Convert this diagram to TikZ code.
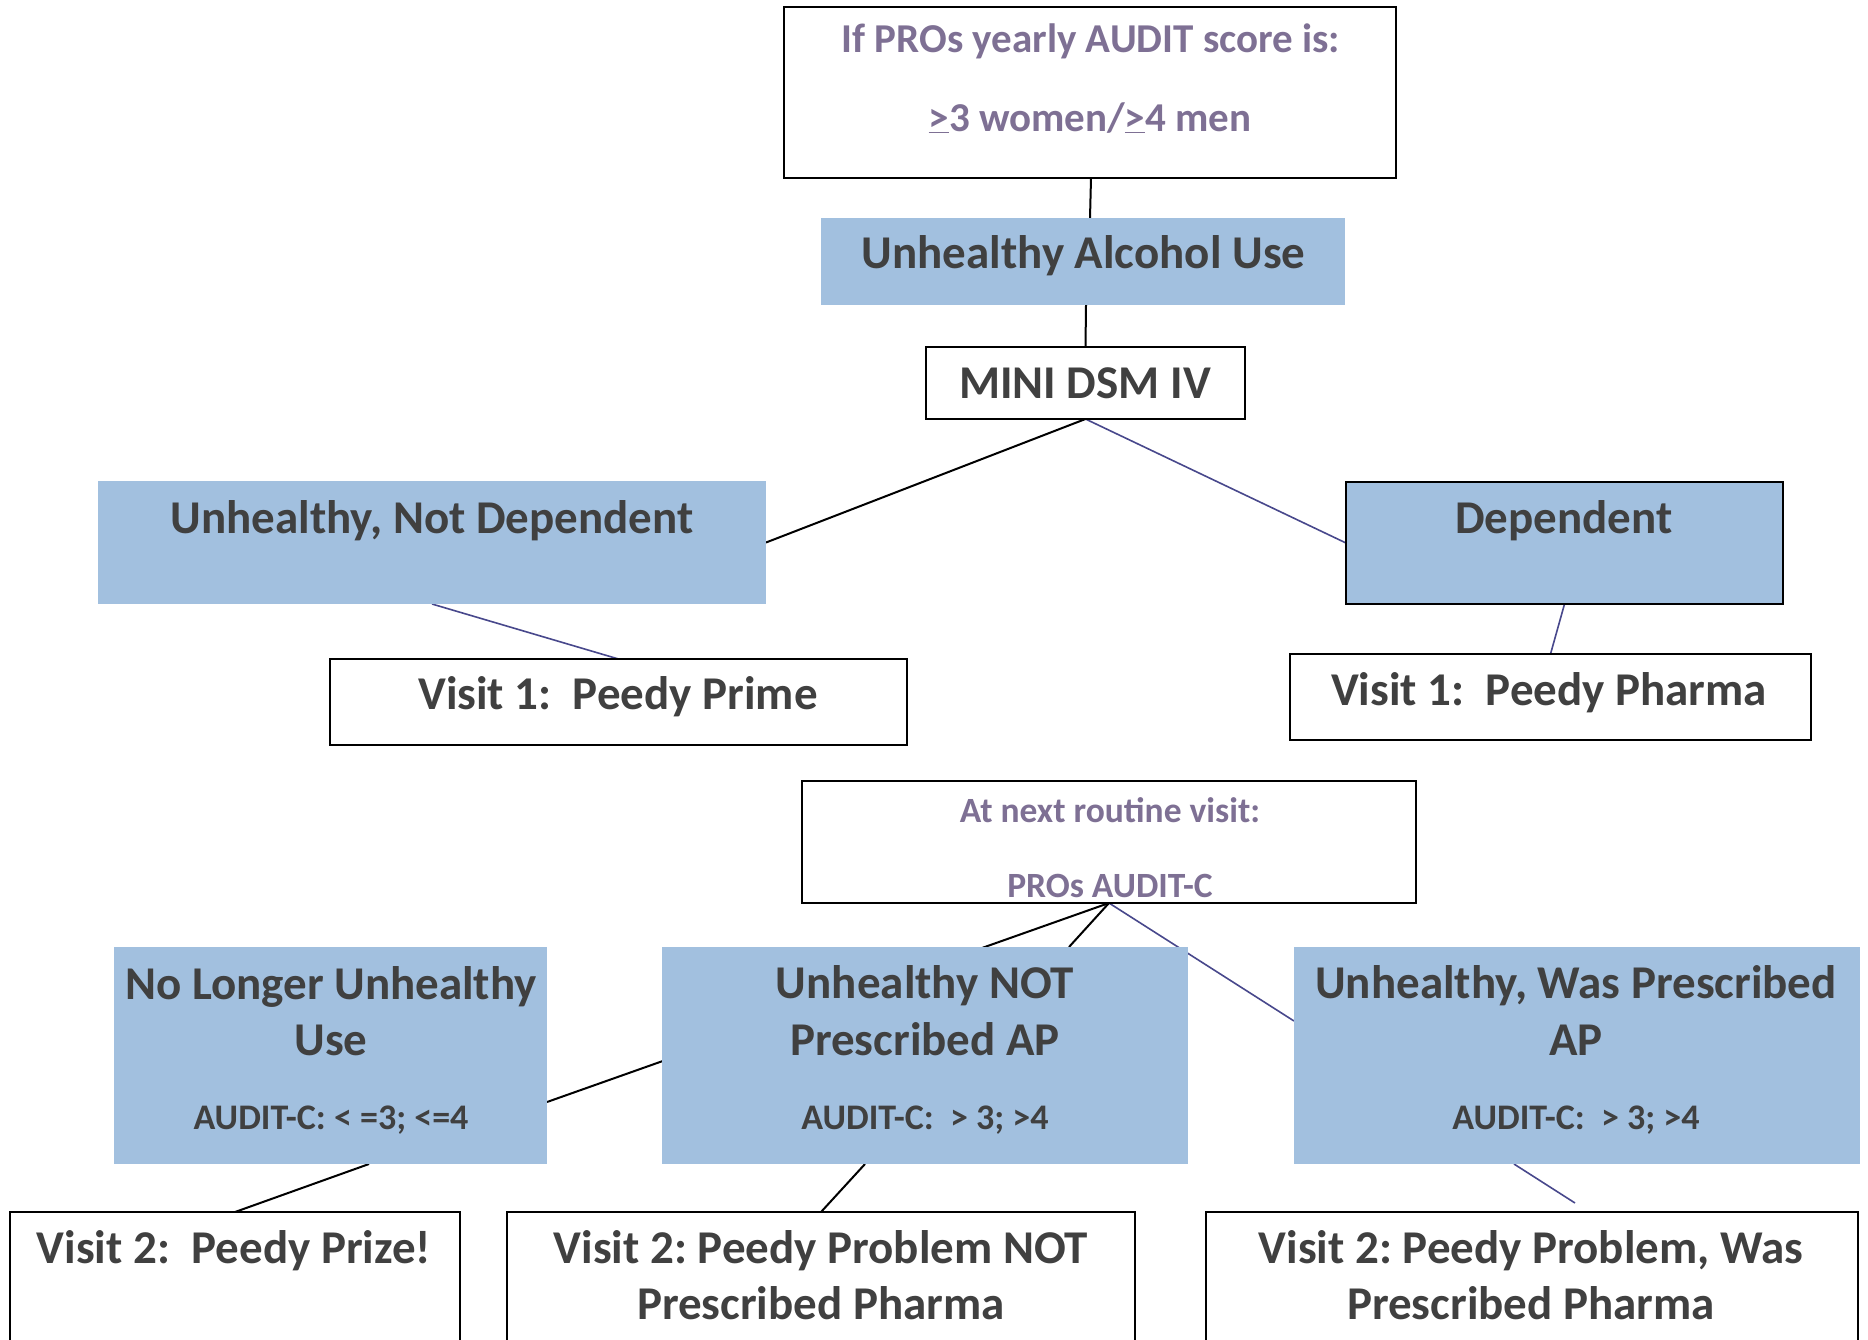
\documentclass[tikz,border=0pt]{standalone}
\usepackage{fontspec}
\setmainfont{Carlito}
\definecolor{boxblue}{RGB}{162,192,223}
\definecolor{txtgray}{RGB}{64,64,64}
\definecolor{txtpurple}{RGB}{126,112,148}
\definecolor{linkblue}{RGB}{72,72,140}
\pgfdeclarelayer{bg}
\pgfsetlayers{bg,main}
\begin{document}
\frenchspacing
\begin{tikzpicture}[x=1pt,y=-1pt,
  wbox/.style={draw=black,line width=2pt,fill=white,inner sep=0pt,outer sep=0pt},
  bluebox/.style={fill=boxblue,inner sep=0pt,outer sep=0pt},
  blueboxd/.style={bluebox,draw=black,line width=2pt},
  big/.style={anchor=base,inner sep=0pt,text=txtgray,font=\frenchspacing\bfseries\fontsize{47}{55}\selectfont},
  small/.style={anchor=base,inner sep=0pt,text=txtgray,font=\frenchspacing\bfseries\fontsize{36}{42}\selectfont},
  ptxt/.style={anchor=base,inner sep=0pt,text=txtpurple,font=\frenchspacing\bfseries\fontsize{41}{48}\selectfont},
  ptxts/.style={anchor=base,inner sep=0pt,text=txtpurple,font=\frenchspacing\bfseries\fontsize{35.5}{42}\selectfont},
  blk/.style={draw=black,line width=2pt},
  blu/.style={draw=linkblue,line width=1.6pt}]
\useasboundingbox (0,0) rectangle (1868,1339);
\clip (0,0) rectangle (1868,1339);

% boxes
\node[wbox, minimum width=612pt, minimum height=171pt] (top) at (1090,92.5) {};
\node[bluebox, minimum width=524pt, minimum height=87pt] (uau) at (1083,261.5) {};
\node[wbox, minimum width=319pt, minimum height=72pt] (mini) at (1085.5,383) {};
\node[bluebox, minimum width=668pt, minimum height=123pt] (und) at (432,542.5) {};
\node[blueboxd, minimum width=437pt, minimum height=122pt] (dep) at (1564.5,543) {};
\node[wbox, minimum width=577pt, minimum height=86pt] (prime) at (618.5,702) {};
\node[wbox, minimum width=521pt, minimum height=86pt] (pharma) at (1550.5,697) {};
\node[wbox, minimum width=614pt, minimum height=122pt] (next) at (1109,842) {};
\node[bluebox, minimum width=433pt, minimum height=217pt] (nlu) at (330.5,1055.5) {};
\node[bluebox, minimum width=526pt, minimum height=217pt] (unp) at (925,1055.5) {};
\node[bluebox, minimum width=566pt, minimum height=217pt] (uwp) at (1577,1055.5) {};
\node[wbox, minimum width=450pt, minimum height=188pt] (prize) at (235,1306) {};
\node[wbox, minimum width=628pt, minimum height=188pt] (v2not) at (821,1306) {};
\node[wbox, minimum width=652pt, minimum height=188pt] (v2was) at (1532,1306) {};

% texts
\node[ptxt] (t1) at (1091,52) {If PROs yearly AUDIT score is:};
\node[ptxt] (t2) at (1090,131) {\underline{>}3 women/\underline{>}4 men};
\node[big] (t3) at (1083.5,268) {Unhealthy Alcohol Use};
\node[big] (t4) at (1085,398) {MINI DSM IV};
\node[big] (t5) at (432,533) {Unhealthy, Not Dependent};
\node[big] (t6) at (1564,533) {Dependent};
\node[big] (t7) at (618,709) {Visit 1:\ \ Peedy Prime};
\node[big] (t8) at (1549,705) {Visit 1:\ \ Peedy Pharma};
\node[ptxts] (t9) at (1110,822) {At next routine visit:};
\node[ptxts] (t10) at (1110,897) {PROs AUDIT-C};
\node[big] (t11) at (331,999) {No Longer Unhealthy};
\node[big] (t12) at (331,1055) {Use};
\node[small] (t13) at (331,1129) {AUDIT-C: < =3; <=4};
\node[big] (t14) at (925,998) {Unhealthy NOT};
\node[big] (t15) at (925,1055) {Prescribed AP};
\node[small] (t16) at (925,1129) {AUDIT-C:\ \ > 3; >4};
\node[big] (t17) at (1576,998) {Unhealthy, Was Prescribed};
\node[big] (t18) at (1576,1055) {AP};
\node[small] (t19) at (1576,1129) {AUDIT-C:\ \ > 3; >4};
\node[big] (t20) at (234,1263) {Visit 2:\ \ Peedy Prize!};
\node[big] (t21) at (821,1263) {Visit 2: Peedy Problem NOT};
\node[big] (t22) at (821,1319) {Prescribed Pharma};
\node[big] (t23) at (1531,1263) {Visit 2: Peedy Problem, Was};
\node[big] (t24) at (1531,1319) {Prescribed Pharma};

% connectors
\begin{pgfonlayer}{bg}
\fill[white] (0,0) rectangle (1868,1339);
\draw[blk] (top.south -| 1091,0) -- (uau.north -| 1090,0);
\draw[blk] (uau.south -| 1086,0) -- (mini.north);
\draw[blk] (mini.south) -- (und.east);
\draw[blu] (mini.south) -- (dep.west);
\draw[blu] (und.south) -- (prime.north);
\draw[blu] (dep.south) -- (pharma.north);
\draw[blk] (next.south) -- (nlu.east |- 0,1102);
\draw[blk] (next.south) -- (unp.north -| 1069,0);
\draw[blu] (next.south) -- (uwp.west |- 0,1021);
\draw[blk] (nlu.south -| 369,0) -- (prize.north);
\draw[blk] (unp.south -| 865,0) -- (v2not.north);
\coordinate (uwpend) at (1575,1203);
\draw[blu] (uwp.south -| 1514,0) -- (uwpend);
\end{pgfonlayer}
\end{tikzpicture}
\end{document}
